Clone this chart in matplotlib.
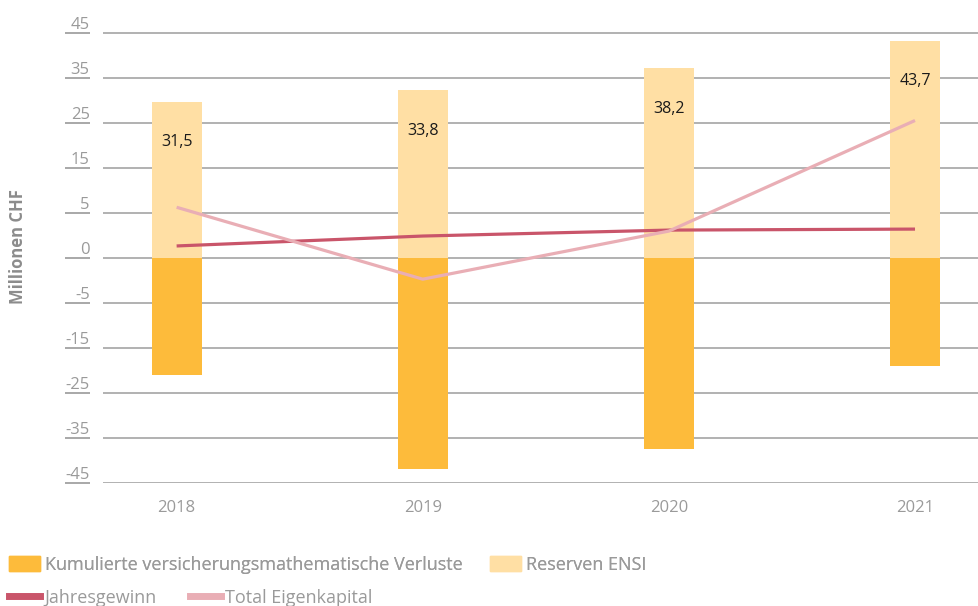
import numpy as np
import matplotlib.pyplot as plt
from matplotlib.patches import Patch
from matplotlib.lines import Line2D

plt.rcParams['font.family'] = ['Open Sans', 'DejaVu Sans']

# data (Mio. CHF)
years = ['2018', '2019', '2020', '2021']
verluste = [-23.6, -42.5, -38.5, -21.8]
reserven = [31.5, 33.8, 38.2, 43.7]
jahresgewinn = [2.4, 4.4, 5.6, 5.8]
eigenkapital = [10.2, -4.3, 5.4, 27.7]

# the original axis has odd labels on evenly spaced gridlines
ytick_pos = [-45.4, -36.3, -27.2, -18.2, -9.1, 0, 9.1, 18.2, 27.2, 36.3, 45.4]
ytick_labels = ['-45', '-35', '-25', '-15', '-5', '0', '5', '15', '25', '35', '45']

c_verluste = '#FDBB3B'
c_reserven = '#FFDFA4'
c_gewinn = '#C9556A'
c_eigen = '#E9AEB5'
grey = '#9A9A9A'

fig = plt.figure(figsize=(9.79, 6.06), dpi=100)
ax = fig.add_axes([0.105, 0.203, 0.895, 0.797])

x = np.arange(len(years))
w = 0.203
ax.bar(x, verluste, width=w, color=c_verluste, zorder=2)
ax.bar(x, reserven, width=w, color=c_reserven, zorder=2)
ax.plot(x, jahresgewinn, color=c_gewinn, lw=2.3, zorder=3, solid_capstyle='butt')
ax.plot(x, eigenkapital, color=c_eigen, lw=2.3, zorder=3, solid_capstyle='butt')

for xi, v in zip(x, reserven):
    ax.annotate(f'{v:.1f}'.replace('.', ','), (xi, v), xytext=(0, -29),
                textcoords='offset points', ha='center', va='center',
                fontsize=11.5, color='#1a1a1a', zorder=4)

ax.set_xlim(-0.3, 3.26)
ax.set_ylim(-45.4, 52)
ax.set_xticks(x)
ax.set_xticklabels(years)
ax.set_yticks(ytick_pos)
ax.set_yticklabels(ytick_labels)

ax.set_axisbelow(True)
ax.grid(axis='y', color='#ABABAB', lw=1.3)
for s in ax.spines.values():
    s.set_visible(False)
ax.spines['left'].set_position(('outward', 9.4))

ax.tick_params(axis='x', length=0, pad=12, labelsize=12, labelcolor=grey)
ax.tick_params(axis='y', direction='out', length=18, width=1.4, color='#A8A8A8',
               pad=-18, labelsize=12, labelcolor=grey)
for lab in ax.get_yticklabels():
    lab.set_verticalalignment('bottom')
    lab.set_horizontalalignment('right')

fig.text(18 / 979, 1 - 247 / 606, 'Millionen CHF', rotation=90, ha='center',
         va='center', fontsize=12, fontweight='bold', color='#8C8C8C')

leg1 = fig.legend([Patch(color=c_verluste), Patch(color=c_reserven)],
                  ['Kumulierte versicherungsmathematische Verluste', 'Reserven ENSI'],
                  loc='upper left', bbox_to_anchor=(9 / 979, 1 - 556 / 606), ncol=2,
                  frameon=False, fontsize=13, borderpad=0, borderaxespad=0,
                  handlelength=1.72, handleheight=0.89, handletextpad=0.28,
                  columnspacing=1.5, labelcolor=grey)
fig.legend([Line2D([], [], color=c_gewinn, lw=5), Line2D([], [], color=c_eigen, lw=5)],
           ['Jahresgewinn', 'Total Eigenkapital'],
           loc='upper left', bbox_to_anchor=(9 / 979, 1 - 589 / 606), ncol=2,
           frameon=False, fontsize=13, borderpad=0, borderaxespad=0,
           handlelength=1.72, handleheight=0.8, handletextpad=0.22,
           columnspacing=1.85, labelcolor=grey)
fig.add_artist(leg1)

fig.savefig('out.png', dpi=100)
